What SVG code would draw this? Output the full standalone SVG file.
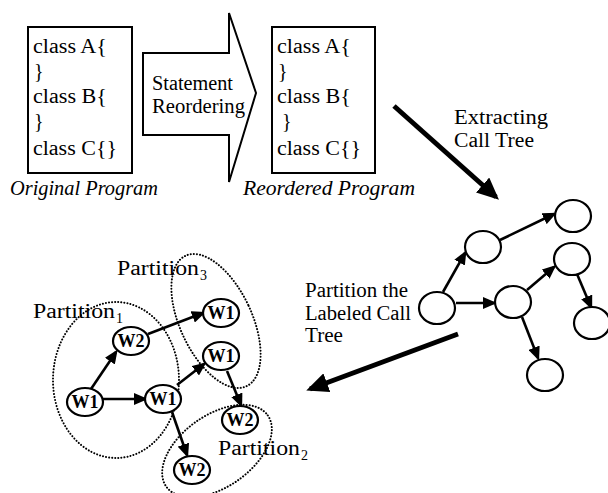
<svg xmlns="http://www.w3.org/2000/svg" width="608" height="493" viewBox="0 0 608 493">
<defs>
  <style>
    .box { fill: #fff; stroke: #000; stroke-width: 2; }
    .node { fill: #fff; stroke: #000; stroke-width: 2.2; }
    .edge { stroke: #000; stroke-width: 2.6; fill: none; marker-end: url(#ah); }
    .big { stroke: #000; stroke-width: 5; fill: none; marker-end: url(#bah); }
    .part { fill: none; stroke: #000; stroke-width: 2; stroke-dasharray: 0.1 3; stroke-linecap: round; }
  </style>
  <marker id="ah" markerUnits="userSpaceOnUse" markerWidth="14" markerHeight="12" refX="11" refY="6" orient="auto">
    <path d="M0,0 L14,6 L0,12 z" fill="#000"/>
  </marker>
  <marker id="bah" markerUnits="userSpaceOnUse" markerWidth="22" markerHeight="20" refX="18" refY="10" orient="auto">
    <path d="M0,0 L22,10 L0,20 z" fill="#000"/>
  </marker>
</defs>
<rect width="608" height="493" fill="#fff"/>

<g id="original-program" font-family="Liberation Serif" font-size="20">
  <rect class="box" x="28" y="27" width="104" height="146"/>
  <text x="33" y="53" textLength="74" lengthAdjust="spacingAndGlyphs">class A{</text>
  <text x="34" y="78">}</text>
  <text x="33" y="103" textLength="74" lengthAdjust="spacingAndGlyphs">class B{</text>
  <text x="34" y="128">}</text>
  <text x="33" y="155" textLength="84" lengthAdjust="spacingAndGlyphs">class C{}</text>
  <text font-style="italic" x="10" y="195" textLength="148" lengthAdjust="spacingAndGlyphs">Original Program</text>
</g>

<g id="statement-reordering" font-family="Liberation Serif" font-size="20">
  <path d="M143,53 L229,53 L229,13 L256,93 L229,182 L229,135 L143,135 Z" fill="#fff" stroke="#000" stroke-width="2"/>
  <text x="152" y="90" textLength="81" lengthAdjust="spacingAndGlyphs">Statement</text>
  <text x="152" y="113" textLength="93" lengthAdjust="spacingAndGlyphs">Reordering</text>
</g>

<g id="reordered-program" font-family="Liberation Serif" font-size="20">
  <rect class="box" x="272" y="27" width="103" height="146"/>
  <text x="277" y="53" textLength="74" lengthAdjust="spacingAndGlyphs">class A{</text>
  <text x="278" y="78">}</text>
  <text x="277" y="103" textLength="74" lengthAdjust="spacingAndGlyphs">class B{</text>
  <text x="282" y="128">}</text>
  <text x="277" y="155" textLength="84" lengthAdjust="spacingAndGlyphs">class C{}</text>
  <text font-style="italic" x="243" y="195" textLength="172" lengthAdjust="spacingAndGlyphs">Reordered Program</text>
</g>

<g id="extracting-label" font-family="Liberation Serif" font-size="20">
  <text x="454" y="124" textLength="94" lengthAdjust="spacingAndGlyphs">Extracting</text>
  <text x="454" y="147" textLength="80" lengthAdjust="spacingAndGlyphs">Call Tree</text>
</g>

<g id="partition-label" font-family="Liberation Serif" font-size="20">
  <text x="305" y="297" textLength="103" lengthAdjust="spacingAndGlyphs">Partition the</text>
  <text x="305" y="320" textLength="106" lengthAdjust="spacingAndGlyphs">Labeled Call</text>
  <text x="305" y="342" textLength="38" lengthAdjust="spacingAndGlyphs">Tree</text>
</g>

<g id="partitions" font-family="Liberation Serif" font-size="20">
  <ellipse class="part" cx="116" cy="380" rx="63" ry="78"/>
  <ellipse class="part" cx="216" cy="321" rx="36" ry="72" transform="rotate(-25 216 321)"/>
  <ellipse class="part" cx="217" cy="451" rx="62" ry="36" transform="rotate(-35 217 451)"/>
  <text x="33" y="318"><tspan textLength="82" lengthAdjust="spacingAndGlyphs">Partition</tspan><tspan font-size="14" dx="1" dy="5">1</tspan></text>
  <text x="117" y="275"><tspan textLength="82" lengthAdjust="spacingAndGlyphs">Partition</tspan><tspan font-size="14" dx="1" dy="5">3</tspan></text>
  <text x="218" y="455"><tspan textLength="82" lengthAdjust="spacingAndGlyphs">Partition</tspan><tspan font-size="14" dx="1" dy="5">2</tspan></text>
</g>

<g id="connectors">
  <line class="big" x1="394" y1="106" x2="496" y2="197"/>
  <line class="big" x1="458" y1="334" x2="310" y2="389"/>
  <line class="edge" x1="443" y1="292" x2="465" y2="253"/>
  <line class="edge" x1="500" y1="240" x2="554" y2="214"/>
  <line class="edge" x1="456" y1="303" x2="494" y2="303"/>
  <line class="edge" x1="527" y1="290" x2="554" y2="267"/>
  <line class="edge" x1="577" y1="274" x2="591" y2="307"/>
  <line class="edge" x1="522" y1="317" x2="538" y2="358"/>
  <line class="edge" x1="91" y1="389" x2="116" y2="352"/>
  <line class="edge" x1="103" y1="399" x2="145" y2="399"/>
  <line class="edge" x1="148" y1="334" x2="203" y2="313"/>
  <line class="edge" x1="177" y1="385" x2="204" y2="364"/>
  <line class="edge" x1="227" y1="371" x2="241" y2="405"/>
  <line class="edge" x1="172" y1="412" x2="187" y2="455"/>
</g>

<g id="call-tree-nodes">
  <ellipse id="ct-root" class="node" cx="437" cy="308" rx="18" ry="16"/>
  <ellipse id="ct-a" class="node" cx="483" cy="247" rx="18" ry="16"/>
  <ellipse id="ct-top" class="node" cx="573" cy="216" rx="18" ry="16"/>
  <ellipse id="ct-mid" class="node" cx="513" cy="302" rx="18" ry="16"/>
  <ellipse id="ct-ur" class="node" cx="572" cy="259" rx="18" ry="16"/>
  <ellipse id="ct-rl" class="node" cx="592" cy="323" rx="18" ry="16"/>
  <ellipse id="ct-bottom" class="node" cx="545" cy="375" rx="18" ry="16"/>
</g>

<g id="labeled-nodes" font-family="Liberation Serif" font-size="18" font-weight="bold" text-anchor="middle">
  <g id="n-w1-root"><ellipse class="node" cx="85" cy="402" rx="18" ry="14"/><text x="85" y="408">W1</text></g>
  <g id="n-w2-a"><ellipse class="node" cx="131" cy="341" rx="18" ry="14"/><text x="131" y="347">W2</text></g>
  <g id="n-w1-mid"><ellipse class="node" cx="163" cy="399" rx="18" ry="14"/><text x="163" y="405">W1</text></g>
  <g id="n-w1-top"><ellipse class="node" cx="221" cy="313" rx="18" ry="14"/><text x="221" y="319">W1</text></g>
  <g id="n-w1-right"><ellipse class="node" cx="221" cy="356" rx="18" ry="14"/><text x="221" y="362">W1</text></g>
  <g id="n-w2-right"><ellipse class="node" cx="240" cy="420" rx="18" ry="14"/><text x="240" y="426">W2</text></g>
  <g id="n-w2-bottom"><ellipse class="node" cx="192" cy="470" rx="18" ry="14"/><text x="192" y="476">W2</text></g>
</g>
</svg>
